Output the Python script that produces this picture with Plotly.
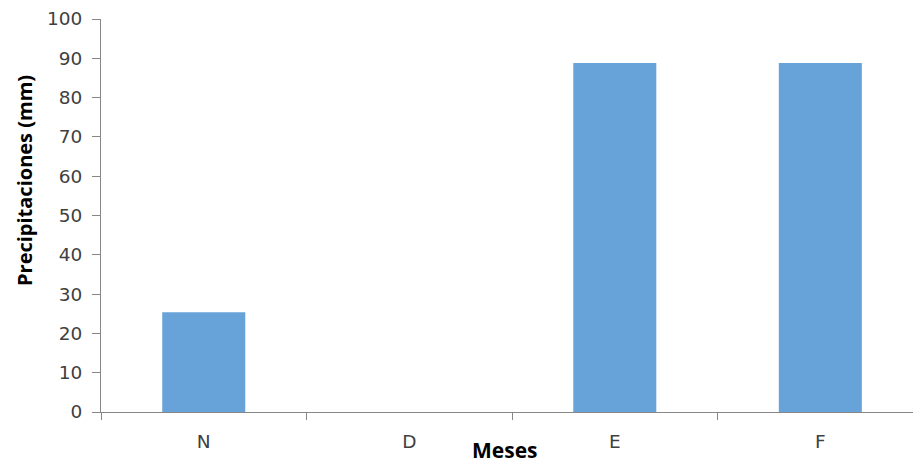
import plotly.graph_objects as go

months = ["N", "D", "E", "F"]
precip = [25.4, 0, 88.8, 88.8]
y_ticks = list(range(0, 101, 10))

PLOT_L, PLOT_R, PLOT_T, PLOT_B = 101, 913, 19, 412
W, H = 914, 463

def px_to_paper_x(px):
    return (px - PLOT_L) / (PLOT_R - PLOT_L)

def px_to_paper_y(py):
    return (PLOT_B - py) / (PLOT_B - PLOT_T)

fig = go.Figure(go.Bar(
    x=months, y=precip, width=0.404,
    marker=dict(color="#67A3D9", line=dict(width=0)),
))

axis_col = "#878787"
tick_font = dict(family="DejaVu Sans", size=18.5, color="#404040")
fig.update_layout(
    width=W, height=H,
    margin=dict(l=PLOT_L, r=W - PLOT_R, t=PLOT_T, b=H - PLOT_B, autoexpand=False),
    paper_bgcolor="white", plot_bgcolor="white",
    showlegend=False,
    annotations=[
        dict(text="<b>Meses</b>", xref="paper", yref="paper",
             x=px_to_paper_x(505), y=px_to_paper_y(434), xanchor="center", yanchor="top",
             showarrow=False, font=dict(family="Open Sans", size=21, color="#000000")),
        dict(text="<b>Precipitaciones (mm)</b>", xref="paper", yref="paper",
             x=px_to_paper_x(24), y=px_to_paper_y(181), xanchor="center", yanchor="middle",
             textangle=-90, showarrow=False,
             font=dict(family="Open Sans", size=20, color="#000000")),
    ],
)
fig.update_xaxes(
    range=[-0.5, 3.451], automargin=False,
    showline=True, linecolor=axis_col, linewidth=1,
    ticks="outside", tickson="boundaries", ticklen=7, tickcolor=axis_col,
    tickfont=tick_font, ticklabelstandoff=13,
    showgrid=False,
)
fig.update_yaxes(
    range=[0, 100], tickvals=y_ticks, automargin=False,
    showline=True, linecolor=axis_col, linewidth=1,
    ticks="outside", ticklen=8, tickcolor=axis_col,
    tickfont=tick_font, ticklabelstandoff=6,
    showgrid=False, zeroline=False,
)
fig.write_html(
    "out.html",
    config={"displayModeBar": False},
    post_script="document.body.style.margin='0';document.body.style.overflow='hidden';",
)
